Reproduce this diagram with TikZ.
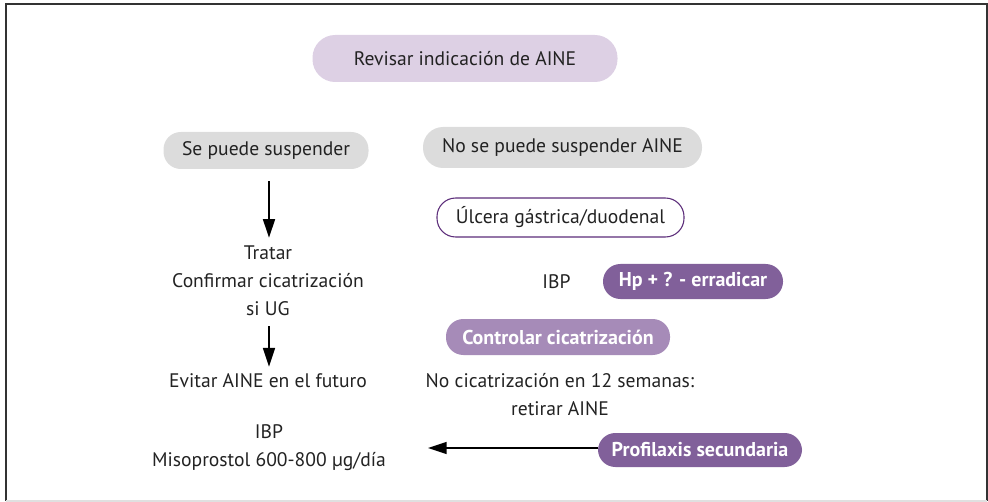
\documentclass[tikz,border=0pt]{standalone}
\usepackage{fontspec}
\setmainfont{PT Sans}
\usetikzlibrary{arrows.meta,calc}
\definecolor{lilac}{HTML}{DDD0E4}
\definecolor{greyb}{HTML}{DCDCDC}
\definecolor{purpd}{HTML}{81609A}
\definecolor{purpm}{HTML}{A68BB8}
\definecolor{purpb}{HTML}{5C2D7A}
\definecolor{ink}{HTML}{222222}
\tikzset{
  pill/.style={rounded corners=13pt, inner sep=0pt, align=center, text=ink, font=\fontsize{14.7}{21}\selectfont},
  txt/.style={inner sep=0pt, align=center, text=ink, font=\fontsize{14.7}{21}\selectfont},
  wpill/.style={pill, text=white, font=\fontsize{15}{21}\selectfont\bfseries},
  arr/.style={line width=1.3pt, draw=black, -{Triangle[length=14pt,width=9pt]}}
}
\begin{document}
\begin{tikzpicture}[x=0.75pt,y=-0.75pt]
\useasboundingbox (0,0) rectangle (988,502);
\draw[line width=1pt, draw=black!80] (6,501) -- (6,4) -- (987,4) -- (987,501);
\draw[line width=0.8pt, draw=black!12] (6,501) -- (987,501);

\node[pill, fill=lilac, minimum width=305*0.75pt, minimum height=47*0.75pt, rounded corners=17pt] (rev) at (465,58.5) {Revisar indicación de AINE};

\node[pill, fill=greyb, minimum width=205*0.75pt, minimum height=37*0.75pt] (sp) at (266,150.5) {Se puede suspender};
\node[pill, fill=greyb, minimum width=279*0.75pt, minimum height=41*0.75pt, rounded corners=15pt] (nsp) at (562.5,147.5) {No se puede suspender AINE};

\node[pill, fill=white, draw=purpb, line width=0.8pt, minimum width=247*0.75pt, minimum height=39*0.75pt, rounded corners=14pt] (ulc) at (560.5,217.5) {Úlcera gástrica/duodenal};

\node[txt] (trat) at (268,281) {Tratar\\Confirmar cicatrización\\si UG};
\node[txt] (evit) at (268,381) {Evitar AINE en el futuro};
\node[txt] (miso) at (269,447.5) {IBP\\Misoprostol 600-800 µg/día};

\node[txt] (ibp) at (556.5,282) {IBP};
\node[wpill, fill=purpd, minimum width=180*0.75pt, minimum height=35*0.75pt] (hp) at (693,281.5) {Hp + ? - erradicar};
\node[wpill, fill=purpm, minimum width=224*0.75pt, minimum height=36*0.75pt] (ctrl) at (558,337) {Controlar cicatrización};
\node[txt] (nocic) at (560,395) {No cicatrización en 12 semanas:\\retirar AINE};
\node[wpill, fill=purpd, minimum width=204*0.75pt, minimum height=34*0.75pt] (prof) at (700,450) {Profilaxis secundaria};

\draw[arr] ($(sp.south)+(3,12)$) -- ($(trat.north)+(1,-8)$);
\draw[arr] ($(trat.south)+(1,10)$) -- ($(evit.north)+(1,-7)$);
\draw[arr] ($(prof.west)+(0,-2)$) -- ($(prof.west -| miso.east)+(42,-2)$);
\end{tikzpicture}
\end{document}
